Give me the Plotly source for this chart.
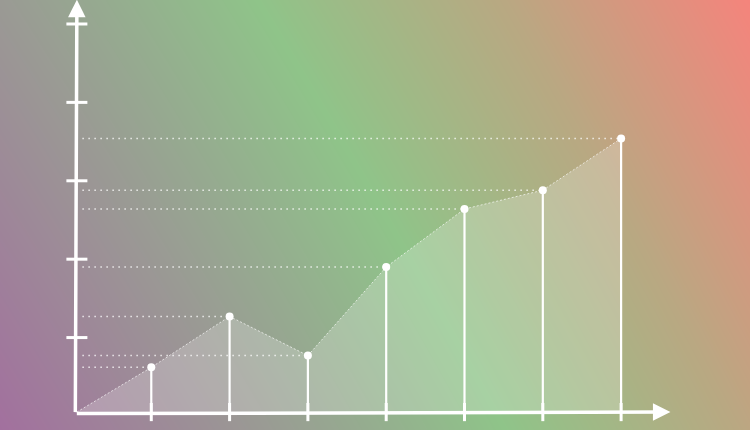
import plotly.graph_objects as go

# chart values
steps = [1, 2, 3, 4, 5, 6, 7]
values = [0.62, 1.27, 0.77, 1.90, 2.64, 2.88, 3.54]
y_ticks = [1, 2, 3, 4, 5]

# background gradient stops (purple -> grey -> green -> tan -> salmon)
bg_scale = [
    [0.0, '#a2709e'],
    [0.27, '#9a9a94'],
    [0.52, '#8fc489'],
    [0.76, '#b9a882'],
    [1.0, '#f5847c'],
]
bg_corners = [[0.0, 0.773], [0.27, 1.0]]  # rows: bottom, top

AXIS = 0.05
WHITE = 'white'

fig = go.Figure()

# gradient backdrop on its own axes
fig.add_trace(go.Heatmap(
    z=bg_corners, x=[0, 1], y=[0, 1],
    colorscale=bg_scale, zmin=0, zmax=1, zsmooth='best',
    showscale=False, hoverinfo='skip'))

# filled area under the line, closed down to the x axis
fig.add_trace(go.Scatter(
    x=[AXIS] + steps + [steps[-1]],
    y=[AXIS] + values + [AXIS],
    mode='lines', fill='toself', fillcolor='rgba(255,255,255,0.22)',
    line=dict(width=0), hoverinfo='skip', xaxis='x2', yaxis='y2'))

# dotted connector from origin through the points
fig.add_trace(go.Scatter(
    x=[AXIS] + steps, y=[AXIS] + values,
    mode='lines', line=dict(color='rgba(255,255,255,0.65)', width=1, dash='2px,2px'),
    hoverinfo='skip', xaxis='x2', yaxis='y2'))

# horizontal guide lines from the y axis to each point
gx, gy = [], []
for s, v in zip(steps, values):
    gx += [0.12, s, None]
    gy += [v, v, None]
fig.add_trace(go.Scatter(
    x=gx, y=gy, mode='lines',
    line=dict(color='rgba(255,255,255,0.8)', width=1.5, dash='1.5px,4.5px'),
    hoverinfo='skip', xaxis='x2', yaxis='y2'))

# vertical stems
sx, sy = [], []
for s, v in zip(steps, values):
    sx += [s, s, None]
    sy += [v, AXIS, None]
fig.add_trace(go.Scatter(
    x=sx, y=sy, mode='lines', line=dict(color=WHITE, width=2.2),
    hoverinfo='skip', xaxis='x2', yaxis='y2'))

# tick marks
fig.add_trace(go.Scatter(
    x=steps, y=[AXIS] * len(steps), mode='markers',
    marker=dict(symbol='line-ns', size=13, line=dict(color=WHITE, width=3)),
    hoverinfo='skip', xaxis='x2', yaxis='y2'))
fig.add_trace(go.Scatter(
    x=[AXIS] * len(y_ticks), y=y_ticks, mode='markers',
    marker=dict(symbol='line-ew', size=15, line=dict(color=WHITE, width=3)),
    hoverinfo='skip', xaxis='x2', yaxis='y2'))

# points
fig.add_trace(go.Scatter(
    x=steps, y=values, mode='markers',
    marker=dict(color=WHITE, size=8),
    hoverinfo='skip', xaxis='x2', yaxis='y2'))

# axis lines with arrow heads
for tip_x, tip_y in [(7.63, AXIS), (AXIS, 5.31)]:
    fig.add_annotation(
        x=tip_x, y=tip_y, ax=AXIS - 0.02, ay=AXIS - 0.02,
        xref='x2', yref='y2', axref='x2', ayref='y2',
        text='', showarrow=True, arrowhead=2, arrowsize=1,
        arrowwidth=3.5, arrowcolor=WHITE, standoff=0)

fig.update_layout(
    width=750, height=430,
    margin=dict(l=0, r=0, t=0, b=0),
    showlegend=False,
    paper_bgcolor='rgba(0,0,0,0)',
    plot_bgcolor='rgba(0,0,0,0)',
    xaxis=dict(range=[0, 1], visible=False, fixedrange=True),
    yaxis=dict(range=[0, 1], visible=False, fixedrange=True),
    xaxis2=dict(range=[-0.932, 8.646], overlaying='x', visible=False, fixedrange=True),
    yaxis2=dict(range=[-0.179, 5.306], overlaying='y', visible=False, fixedrange=True),
)

fig.write_html("out.html", config={'displayModeBar': False},
               post_script="document.body.style.margin='0';")
